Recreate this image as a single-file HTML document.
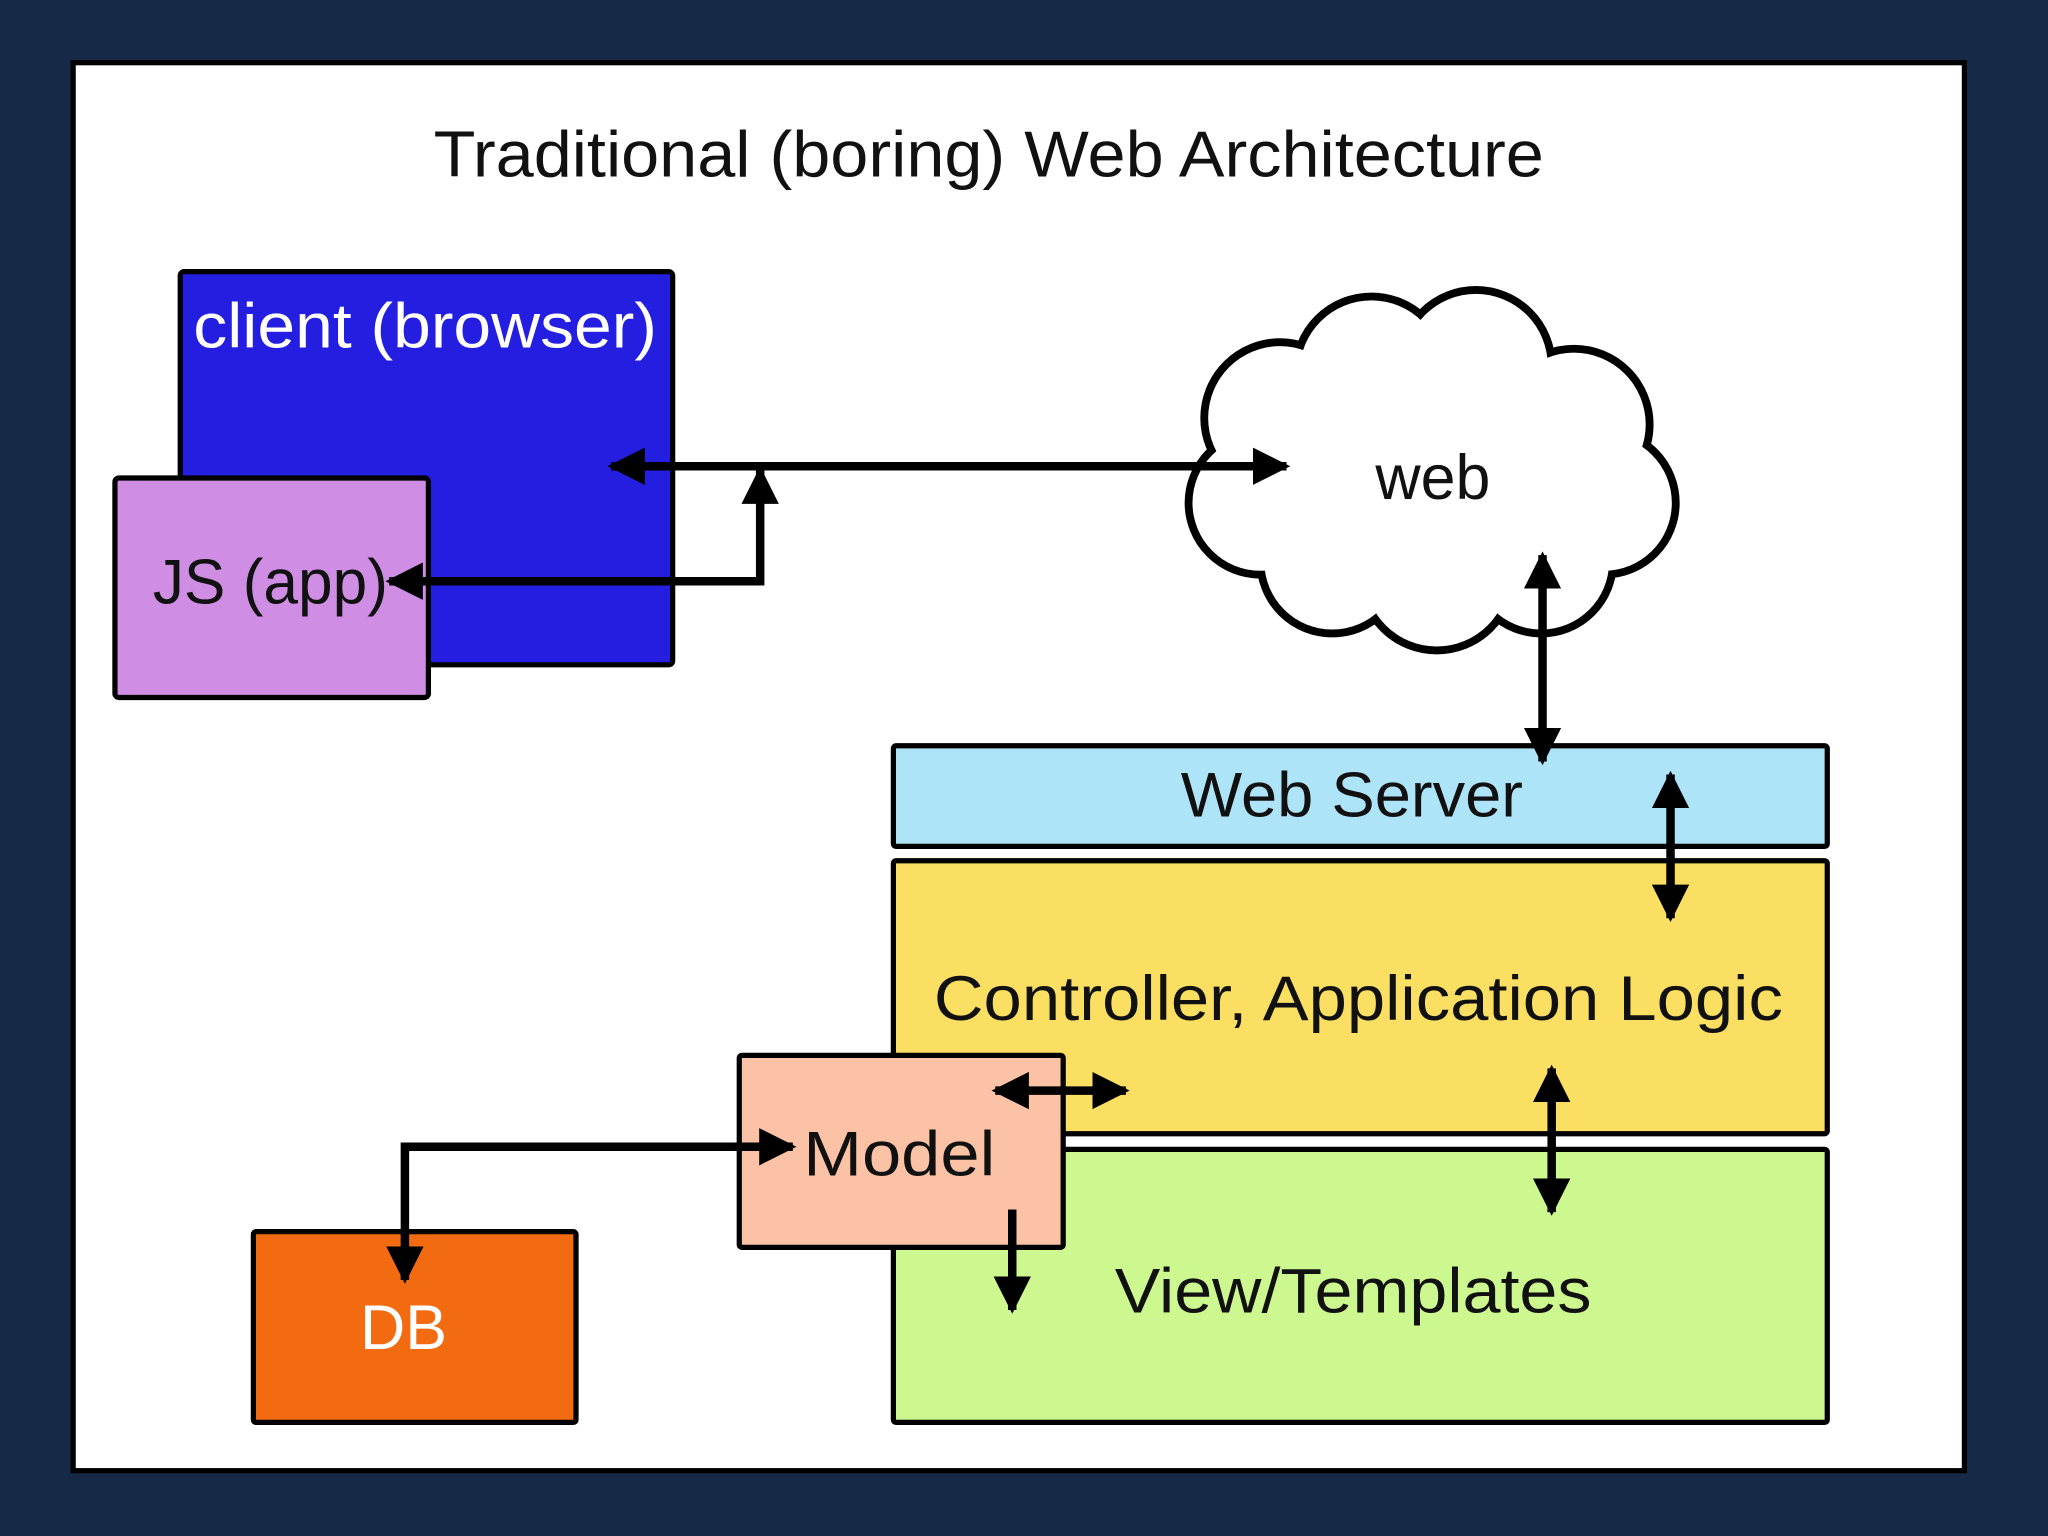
<!DOCTYPE html>
<html><head><meta charset="utf-8"><style>
html,body{margin:0;padding:0;background:#162a47;}
svg{display:block;}
text{font-family:"Liberation Sans",sans-serif;}
</style></head><body>
<svg width="2048" height="1536" viewBox="0 0 1568 1176" xmlns="http://www.w3.org/2000/svg">
<defs>
<marker id="ah" viewBox="0 0 10 10" refX="9" refY="5" markerWidth="4.4" markerHeight="4.6" markerUnits="strokeWidth" orient="auto-start-reverse">
<path d="M0,0 L10,5 L0,10 z" fill="#000"/></marker>
</defs>
<rect width="1568" height="1176" fill="#162a47"/>
<rect x="56" y="48" width="1448" height="1078" fill="#fff" stroke="#000" stroke-width="4"/>
<text x="757" y="135" font-size="50" text-anchor="middle" textLength="850" lengthAdjust="spacingAndGlyphs" fill="#111">Traditional (boring) Web Architecture</text>

<rect x="138" y="208" width="377" height="301" rx="3" fill="#241ee0" stroke="#000" stroke-width="4"/>
<text x="148" y="266" font-size="48" fill="#fff" textLength="355" lengthAdjust="spacingAndGlyphs">client (browser)</text>
<rect x="88" y="366" width="240" height="168" rx="3" fill="#cf8de3" stroke="#000" stroke-width="4"/>
<text x="117" y="462" font-size="48" fill="#111" textLength="180" lengthAdjust="spacingAndGlyphs">JS (app)</text>

<!-- cloud -->
<g stroke="#000" stroke-width="12">
<circle cx="980" cy="320" r="55"/><circle cx="1050" cy="285" r="55"/><circle cx="1130" cy="280" r="55"/>
<circle cx="1205" cy="325" r="55"/><circle cx="1228" cy="385" r="52"/><circle cx="1180" cy="430" r="52"/>
<circle cx="1100" cy="440" r="55"/><circle cx="1020" cy="430" r="52"/><circle cx="965" cy="385" r="52"/><circle cx="1095" cy="360" r="90"/>
</g>
<g fill="#fff">
<circle cx="980" cy="320" r="55"/><circle cx="1050" cy="285" r="55"/><circle cx="1130" cy="280" r="55"/>
<circle cx="1205" cy="325" r="55"/><circle cx="1228" cy="385" r="52"/><circle cx="1180" cy="430" r="52"/>
<circle cx="1100" cy="440" r="55"/><circle cx="1020" cy="430" r="52"/><circle cx="965" cy="385" r="52"/><circle cx="1095" cy="360" r="90"/>
</g>
<text x="1097" y="382" font-size="48" text-anchor="middle" fill="#111">web</text>

<rect x="684" y="571" width="715" height="77" rx="2" fill="#aee4f8" stroke="#000" stroke-width="4"/>
<text x="1035" y="625" font-size="48" text-anchor="middle" fill="#111" textLength="262" lengthAdjust="spacingAndGlyphs">Web Server</text>
<rect x="684" y="659" width="715" height="209" rx="2" fill="#fadf62" stroke="#000" stroke-width="4"/>
<text x="1040" y="781" font-size="48" text-anchor="middle" fill="#111" textLength="650" lengthAdjust="spacingAndGlyphs">Controller, Application Logic</text>
<rect x="684" y="880" width="715" height="209" rx="2" fill="#cdf88f" stroke="#000" stroke-width="4"/>
<text x="1036" y="1005" font-size="48" text-anchor="middle" fill="#111" textLength="365" lengthAdjust="spacingAndGlyphs">View/Templates</text>
<rect x="566" y="808" width="248" height="147" rx="2" fill="#fbc2a6" stroke="#000" stroke-width="4"/>
<text x="615" y="900" font-size="48" fill="#111" textLength="147" lengthAdjust="spacingAndGlyphs">Model</text>
<rect x="194" y="943" width="247" height="146" rx="2" fill="#f26b10" stroke="#000" stroke-width="4"/>
<text x="309" y="1033" font-size="48" text-anchor="middle" fill="#fff">DB</text>

<g stroke="#000" stroke-width="6.5" fill="none" stroke-linejoin="miter">
<line x1="468" y1="357" x2="985" y2="357" marker-start="url(#ah)" marker-end="url(#ah)"/>
<polyline points="298,445 582,445 582,360" marker-start="url(#ah)" marker-end="url(#ah)"/>
<line x1="1181" y1="425" x2="1181" y2="583" marker-start="url(#ah)" marker-end="url(#ah)"/>
<line x1="1279" y1="593" x2="1279" y2="703" marker-start="url(#ah)" marker-end="url(#ah)"/>
<line x1="1188" y1="818" x2="1188" y2="928" marker-start="url(#ah)" marker-end="url(#ah)"/>
<line x1="762" y1="835" x2="862" y2="835" marker-start="url(#ah)" marker-end="url(#ah)"/>
<line x1="775" y1="926" x2="775" y2="1003" marker-end="url(#ah)"/>
<polyline points="310,980 310,878 607,878" marker-start="url(#ah)" marker-end="url(#ah)"/>
</g>
</svg>
</body></html>
